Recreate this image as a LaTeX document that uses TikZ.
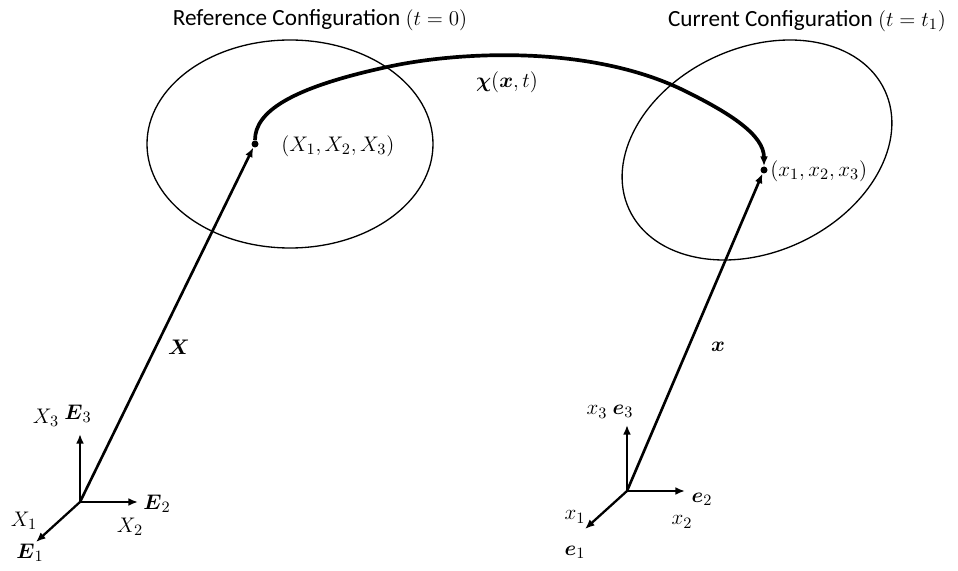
\documentclass[tikz,border=0pt]{standalone}
\usepackage{amsmath,amssymb}
\usepackage{fontspec}
\setmainfont{Carlito}
\usepackage{tikz}
\usetikzlibrary{arrows.meta}

\begin{document}
\begin{tikzpicture}[
  x=0.02cm,y=-0.02cm,
  body/.style={line width=0.75pt},
  axis/.style={line width=1.3pt,-{Latex[length=5.5pt,width=4.5pt]}},
  vec/.style={axis,line width=1.5pt},
  motion/.style={line width=2.1pt,-{Latex[length=5.5pt,width=4.5pt]}},
  dot/.style={circle,fill,inner sep=0pt,minimum size=0.14cm},
  lbl/.style={font=\fontsize{12.5}{15}\selectfont,inner sep=0pt},
  ttl/.style={lbl,font=\fontsize{13.2}{16}\selectfont}
]
\useasboundingbox (0,0) rectangle (958,571);
%% the two bodies
\draw[body] (290,144) ellipse [x radius=143,y radius=104];
\draw[body] (757,150) ellipse [x radius=141,y radius=102,rotate=25];
\node[ttl] (reft) at (320,20) {Reference Configuration $(t=0)$};
\node[ttl] (curt) at (807,21) {Current Configuration $(t=t_1)$};
%% material point and spatial point
\node[dot] (P) at (255,144) {};
\node[dot] (p) at (764,170) {};
\node[lbl,anchor=west] (Plbl) at (281,146) {$(X_1,X_2,X_3)$};
\node[lbl,anchor=west] (plbl) at (770,171) {$(x_1,x_2,x_3)$};
%% reference frame
\coordinate (O) at (80,502);
\coordinate (E1) at (36,542);
\coordinate (E2) at (138,502);
\coordinate (E3) at (80,434);
\draw[axis] (O) -- (E1);
\draw[axis] (O) -- (E2);
\draw[axis] (O) -- (E3);
\node[lbl] (X3) at (46,418) {$X_3$};
\node[lbl] (E3l) at (78,414) {$\boldsymbol{E}_3$};
\node[lbl] (E2l) at (157,504) {$\boldsymbol{E}_2$};
\node[lbl] (X2) at (130,527) {$X_2$};
\node[lbl] (X1) at (24,521) {$X_1$};
\node[lbl] (E1l) at (30,553) {$\boldsymbol{E}_1$};
%% current frame
\coordinate (o) at (627,491);
\coordinate (e1) at (585,529);
\coordinate (e2) at (685,491);
\coordinate (e3) at (627,425);
\draw[axis] (o) -- (e1);
\draw[axis] (o) -- (e2);
\draw[axis] (o) -- (e3);
\node[lbl] (x3) at (597,412) {$x_3$};
\node[lbl] (e3l) at (623,411) {$\boldsymbol{e}_3$};
\node[lbl] (e2l) at (702,499) {$\boldsymbol{e}_2$};
\node[lbl] (x2) at (682,522) {$x_2$};
\node[lbl] (x1) at (575,517) {$x_1$};
\node[lbl] (e1l) at (575,552) {$\boldsymbol{e}_1$};
%% position vectors
\draw[vec] (O) -- (P);
\draw[vec] (o) -- (p);
\node[lbl] (Xl) at (179,347) {$\boldsymbol{X}$};
\node[lbl] (xl) at (718,347) {$\boldsymbol{x}$};
%% motion
\draw[motion] (P) .. controls (255,112) and (290,88) .. (387,67)
  .. controls (460,51) and (590,45) .. (683,90)
  .. controls (730,113) and (764,135) .. (p);
\node[lbl] (chi) at (507,82) {$\boldsymbol{\chi}(\boldsymbol{x},t)$};
\end{tikzpicture}
\end{document}
